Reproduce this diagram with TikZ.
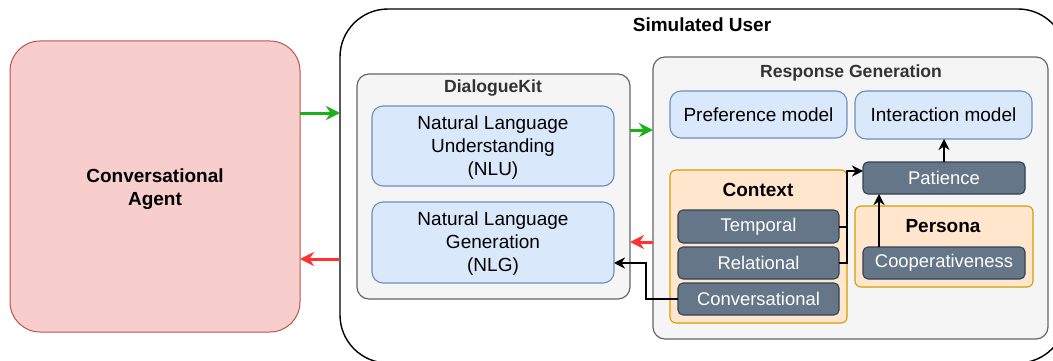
\documentclass[tikz,border=0pt]{standalone}
\usepackage{fontspec}
\setmainfont{Liberation Sans}
\usetikzlibrary{arrows.meta}

\definecolor{agentfill}{HTML}{F8CECC}
\definecolor{agentdraw}{HTML}{B85450}
\definecolor{grayfill}{HTML}{F5F5F5}
\definecolor{graydraw}{HTML}{666666}
\definecolor{graytext}{HTML}{333333}
\definecolor{bluefill}{HTML}{DAE8FC}
\definecolor{bluedraw}{HTML}{6C8EBF}
\definecolor{orangefill}{HTML}{FFE6CC}
\definecolor{orangedraw}{HTML}{D79B00}
\definecolor{darkfill}{HTML}{647687}
\definecolor{darkdraw}{HTML}{314354}
\definecolor{flowgreen}{HTML}{1DB01D}
\definecolor{flowred}{HTML}{FF3333}

\tikzset{
  box/.style={anchor=north west, inner sep=0pt, outer sep=0pt, align=center},
  agentbox/.style={box, rounded corners=30pt, fill=agentfill, draw=agentdraw, line width=1pt,
    font=\fontsize{19}{23}\selectfont\bfseries},
  simbox/.style={box, rounded corners=48pt, draw=black, line width=1.4pt},
  graybox/.style={box, rounded corners=12pt, fill=grayfill, draw=graydraw, line width=1.2pt},
  bluebox/.style={box, rounded corners=11pt, fill=bluefill, draw=bluedraw, line width=1.1pt,
    font=\fontsize{19}{23}\selectfont},
  orangebox/.style={box, rounded corners=6pt, fill=orangefill, draw=orangedraw, line width=1.1pt},
  darkbox/.style={box, rounded corners=5pt, fill=darkfill, draw=darkdraw, line width=1.1pt,
    text=white, font=\fontsize{18.4}{22}\selectfont},
  headtitle/.style={inner sep=0pt, text=graytext, font=\fontsize{17.6}{20}\selectfont\bfseries},
  boldtitle/.style={inner sep=0pt, text=black, font=\fontsize{19}{22}\selectfont\bfseries},
  greenflow/.style={draw=flowgreen, line width=3pt,
    -{Stealth[length=14pt, width=14pt, inset=4.5pt]}},
  redflow/.style={draw=flowred, line width=3pt,
    -{Stealth[length=14pt, width=14pt, inset=4.5pt]}},
  blackflow/.style={draw=black, line width=2pt,
    -{Stealth[length=11pt, width=11pt, inset=3.5pt]}},
  blackline/.style={draw=black, line width=2pt},
}

\begin{document}
\begin{tikzpicture}[x=1pt, y=-1pt]
\useasboundingbox (0,0) rectangle (1053,361);
\clip (0,0) rectangle (1053,361);

% Conversational agent
\node[agentbox, minimum width=290pt, minimum height=291pt] (agent) at (10,41) {};
\node[inner sep=0pt, align=center, font=\fontsize{19}{23}\selectfont\bfseries] (agentlabel)
  at (155,189) {Conversational\\Agent};

% Simulated user container (runs past the right and bottom edges)
\node[simbox, minimum width=726pt, minimum height=354pt] (sim) at (340,9) {};
\node[boldtitle] (simtitle) at (702,25) {Simulated User};

% DialogueKit
\node[graybox, minimum width=273pt, minimum height=225pt] (dk) at (357,74) {};
\node[headtitle] (dktitle) at (493,88) {DialogueKit};
\node[bluebox, minimum width=242pt, minimum height=80pt] (nlu) at (372,106) {};
\node[inner sep=0pt, align=center, font=\fontsize{19}{23}\selectfont] (nlulabel)
  at (493,148) {Natural Language\\Understanding\\(NLU)};
\node[bluebox, minimum width=242pt, minimum height=81pt] (nlg) at (372,202) {};
\node[inner sep=0pt, align=center, font=\fontsize{19}{23}\selectfont] (nlglabel)
  at (493,244) {Natural Language\\Generation\\(NLG)};

% Response generation
\node[graybox, minimum width=395pt, minimum height=282pt] (rg) at (653,57) {};
\node[headtitle] (rgtitle) at (851,73) {Response Generation};
\node[bluebox, minimum width=177pt, minimum height=47pt] (pref) at (670,91) {Preference model};
\node[bluebox, minimum width=177pt, minimum height=48pt] (inter) at (855,91) {Interaction model};
\node[darkbox, minimum width=162pt, minimum height=32pt] (patience) at (863,162) {Patience};

% Context
\node[orangebox, minimum width=177pt, minimum height=153pt] (context) at (670,170) {};
\node[boldtitle] (contexttitle) at (758,190) {Context};
\node[darkbox, minimum width=161pt, minimum height=33pt] (temporal) at (678,210) {Temporal};
\node[darkbox, minimum width=161pt, minimum height=32pt] (relational) at (678,247) {Relational};
\node[darkbox, minimum width=161pt, minimum height=32pt] (conv) at (678,283) {Conversational};

% Persona
\node[orangebox, minimum width=178pt, minimum height=81pt] (persona) at (855,206) {};
\node[boldtitle] (personatitle) at (943,226) {Persona};
\node[darkbox, minimum width=162pt, minimum height=32pt] (coop) at (863,247) {Cooperativeness};

% Routing points
\coordinate (inrow) at (0,113);
\coordinate (outrow) at (0,259);
\coordinate (rgin) at (0,130);
\coordinate (rgout) at (0,242);
\coordinate (nlgbend) at (646,263);
\coordinate (ctxjoin) at (847,171);
\coordinate (coopcol) at (879,0);

% Agent <-> simulated user
\draw[greenflow] (agent.east |- inrow) -- (sim.west |- inrow);
\draw[redflow] (sim.west |- outrow) -- (agent.east |- outrow);

% DialogueKit <-> response generation
\draw[greenflow] (dk.east |- rgin) -- (rg.west |- rgin);
\draw[redflow] (rg.west |- rgout) -- (dk.east |- rgout);

% Conversational context feeds generation
\draw[blackflow] (conv.west) -- (conv.west -| nlgbend) |- (nlg.east |- nlgbend);

% Context and persona feed patience
\draw[blackline] (temporal.east) -- (temporal.east -| ctxjoin);
\draw[blackflow] (relational.east) -| (ctxjoin) -- (patience.west |- ctxjoin);
\draw[blackflow] (coop.north -| coopcol) -- (patience.south -| coopcol);
\draw[blackflow] (patience.north) -- (inter.south -| patience.north);
\end{tikzpicture}
\end{document}
